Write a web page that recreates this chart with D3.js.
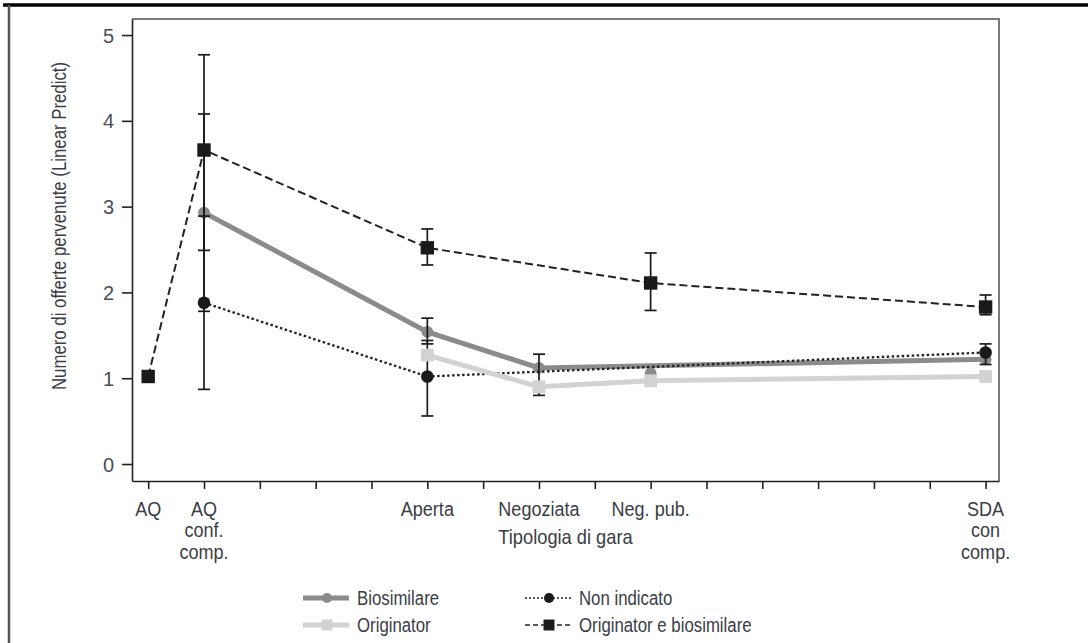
<!DOCTYPE html>
<html>
<head>
<meta charset="utf-8">
<script src="https://cdn.jsdelivr.net/npm/d3@7"></script>
<style>
	body { margin: 0; background: #fff; }
	svg text { font-family: "Liberation Sans", Arial, sans-serif; fill: #3a3d45; }
</style>
</head>
<body>
<div id="chart"></div>
<script>
// Categories (x codes as in the source plot) and their labels
var xCodes = [1, 2, 6, 8, 10, 16];
var categories = [['AQ'], ['AQ', 'conf.', 'comp.'], ['Aperta'], ['Negoziata'], ['Neg. pub.'], ['SDA', 'con', 'comp.']];
var yTicks = [0, 1, 2, 3, 4, 5];

// Series values, aligned with categories (null = no estimate)
var biosimilare = [null, 2.93, 1.54, 1.12, null, 1.22];
var biosimilareLo = [null, 1.78, 1.40, 0.80, null, null];
var biosimilareHi = [null, 4.08, 1.70, 1.28, null, null];
var biosimilareLoose = [null, null, null, null, 1.06, null]; // marker with no connecting line

var originator = [null, null, 1.27, 0.90, 0.97, 1.02];

var nonIndicato = [null, 1.88, 1.02, null, null, 1.30];
var nonIndicatoLo = [null, 0.87, 0.56, null, null, 1.16];
var nonIndicatoHi = [null, 2.89, 1.44, null, null, 1.40];

var origBio = [1.02, 3.66, 2.52, null, 2.11, 1.83];
var origBioLo = [null, 2.49, 2.32, null, 1.79, 1.74];
var origBioHi = [null, 4.77, 2.74, null, 2.46, 1.97];

var xTitle = 'Tipologia di gara';
var yTitle = 'Numero di offerte pervenute (Linear Predict)';

// text in a horizontally squeezed group (no narrow font installed)
var narrowText = function(parent, x, y, squeeze) {
	return parent.append('g')
		.attr('transform', 'translate(' + x + ',' + y + ') scale(' + squeeze + ',1)')
		.append('text');
};

var render = function() {
	var width = 1088;
	var height = 643;

	var plot = { left: 132, right: 999, top: 19, bottom: 481 };

	var svg = d3.select('#chart')
		.append('svg')
		.attr('width', width)
		.attr('height', height);

	// page frame (cut from a report page)
	svg.append('line')
		.attr('x1', 3).attr('x2', width)
		.attr('y1', 5).attr('y2', 5)
		.attr('stroke', '#000').attr('stroke-width', 3.5);
	svg.append('line')
		.attr('x1', 9).attr('x2', 9)
		.attr('y1', 5).attr('y2', height)
		.attr('stroke', '#555').attr('stroke-width', 2.5);

	var xScale = d3.scaleLinear()
		.domain([0.71, 16.24])
		.range([plot.left, plot.right]);

	var yScale = d3.scaleLinear()
		.domain([-0.198, 5.187])
		.range([plot.bottom, plot.top]);

	// plot frame top/right
	svg.append('path')
		.attr('d', 'M' + plot.left + ',' + plot.top + 'H' + plot.right + 'V' + plot.bottom)
		.attr('fill', 'none')
		.attr('stroke', '#7a7a7a')
		.attr('stroke-width', 2);

	var yAxis = d3.axisLeft(yScale)
		.tickValues(yTicks)
		.tickSize(10)
		.tickSizeOuter(0)
		.tickPadding(8)
		.tickFormat(d3.format('d'));

	var yG = svg.append('g')
		.attr('transform', 'translate(' + plot.left + ',0)')
		.call(yAxis);
	yG.selectAll('path, line').attr('stroke', '#222').attr('stroke-width', 1.6);
	yG.selectAll('text')
		.style('font-size', '20px')
		.style('fill', '#4a4e58')
		.attr('dy', '0.35em');

	var xAxis = d3.axisBottom(xScale)
		.tickValues(d3.range(1, 17))
		.tickSize(8)
		.tickSizeOuter(0)
		.tickFormat('');

	var xG = svg.append('g')
		.attr('transform', 'translate(0,' + plot.bottom + ')')
		.call(xAxis);
	xG.selectAll('path, line').attr('stroke', '#222').attr('stroke-width', 1.6);

	// multi-line category labels
	var labelG = svg.append('g');
	categories.forEach(function(d, i) {
		var t = narrowText(labelG, xScale(xCodes[i]), 0, 0.86)
			.attr('text-anchor', 'middle')
			.style('font-size', '21px');
		d.forEach(function(line, j) {
			t.append('tspan')
				.attr('x', 0)
				.attr('y', 516 + j * 21.5)
				.text(line);
		});
	});

	narrowText(svg, (plot.left + plot.right) / 2, 544, 0.87)
		.attr('text-anchor', 'middle')
		.style('font-size', '21px')
		.text(xTitle);

	svg.append('g')
		.attr('transform', 'translate(66,226) rotate(-90) scale(0.84,1)')
		.append('text')
		.attr('text-anchor', 'middle')
		.style('font-size', '20px')
		.text(yTitle);

	var toPoints = function(vals) {
		var pts = [];
		vals.forEach(function(v, i) {
			if (v != null) {
				pts.push({ x: xCodes[i], y: v });
			}
		});
		return pts;
	};

	var line = d3.line()
		.x(function(d) { return xScale(d.x); })
		.y(function(d) { return yScale(d.y); });

	var drawLine = function(vals, color, width, dash) {
		svg.append('path')
			.attr('d', line(toPoints(vals)))
			.attr('fill', 'none')
			.attr('stroke', color)
			.attr('stroke-width', width)
			.attr('stroke-dasharray', dash || null);
	};

	var drawMarkers = function(vals, color, shape, size) {
		var sym = d3.symbol()
			.type(shape === 'square' ? d3.symbolSquare : d3.symbolCircle)
			.size(size);
		svg.append('g')
			.selectAll('path')
			.data(toPoints(vals))
			.enter()
			.append('path')
			.attr('transform', function(d) {
				return 'translate(' + xScale(d.x) + ',' + yScale(d.y) + ')';
			})
			.attr('d', sym)
			.attr('fill', color);
	};

	var drawErrors = function(lo, hi) {
		var bars = [];
		lo.forEach(function(v, i) {
			if (v != null && hi[i] != null) {
				bars.push({ x: xCodes[i], lo: v, hi: hi[i] });
			}
		});
		var g = svg.append('g')
			.attr('stroke', '#1a1a1a')
			.attr('stroke-width', 1.7);
		var cap = 6;
		bars.forEach(function(b) {
			var cx = xScale(b.x);
			g.append('line')
				.attr('x1', cx).attr('x2', cx)
				.attr('y1', yScale(b.lo)).attr('y2', yScale(b.hi));
			[b.lo, b.hi].forEach(function(v) {
				g.append('line')
					.attr('x1', cx - cap).attr('x2', cx + cap)
					.attr('y1', yScale(v)).attr('y2', yScale(v));
			});
		});
	};

	var colBio = '#8b8b8b';
	var colOrig = '#d2d2d2';
	var colBlack = '#1a1a1a';

	// Biosimilare
	drawLine(biosimilare, colBio, 5);
	drawMarkers(biosimilare, colBio, 'circle', 110);
	drawMarkers(biosimilareLoose, colBio, 'circle', 110);

	// Non indicato
	drawLine(nonIndicato, '#222', 2.3, '2.5,2.5');
	drawMarkers(nonIndicato, colBlack, 'circle', 125);

	// Originator e biosimilare
	drawLine(origBio, '#222', 2, '8,4');
	drawMarkers(origBio, colBlack, 'square', 180);

	// error bars
	drawErrors(biosimilareLo, biosimilareHi);
	drawErrors(nonIndicatoLo, nonIndicatoHi);
	drawErrors(origBioLo, origBioHi);

	// Originator
	drawLine(originator, colOrig, 5);
	drawMarkers(originator, colOrig, 'square', 165);

	/*
	 * Legend
	 */
	var legendItems = [
		{ name: 'Biosimilare', color: colBio, fill: colBio, width: 5, dash: null, shape: 'circle', size: 80, x: 303, y: 598 },
		{ name: 'Originator', color: colOrig, fill: colOrig, width: 5, dash: null, shape: 'square', size: 120, x: 303, y: 625 },
		{ name: 'Non indicato', color: '#222', fill: colBlack, width: 1.5, dash: '2,2', shape: 'circle', size: 80, x: 525, y: 598 },
		{ name: 'Originator e biosimilare', color: '#222', fill: colBlack, width: 1.5, dash: '5,3', shape: 'square', size: 120, x: 525, y: 625 }
	];

	var legend = svg.append('g').attr('class', 'legend');
	legendItems.forEach(function(d) {
		legend.append('line')
			.attr('x1', d.x).attr('x2', d.x + 46)
			.attr('y1', d.y).attr('y2', d.y)
			.attr('stroke', d.color)
			.attr('stroke-width', d.width)
			.attr('stroke-dasharray', d.dash);
		legend.append('path')
			.attr('transform', 'translate(' + (d.x + 24) + ',' + d.y + ')')
			.attr('d', d3.symbol().type(d.shape === 'square' ? d3.symbolSquare : d3.symbolCircle).size(d.size))
			.attr('fill', d.fill);
		narrowText(legend, d.x + 54, d.y + 7, 0.8)
			.style('font-size', '21px')
			.text(d.name);
	});
};

render();
</script>
</body>
</html>
